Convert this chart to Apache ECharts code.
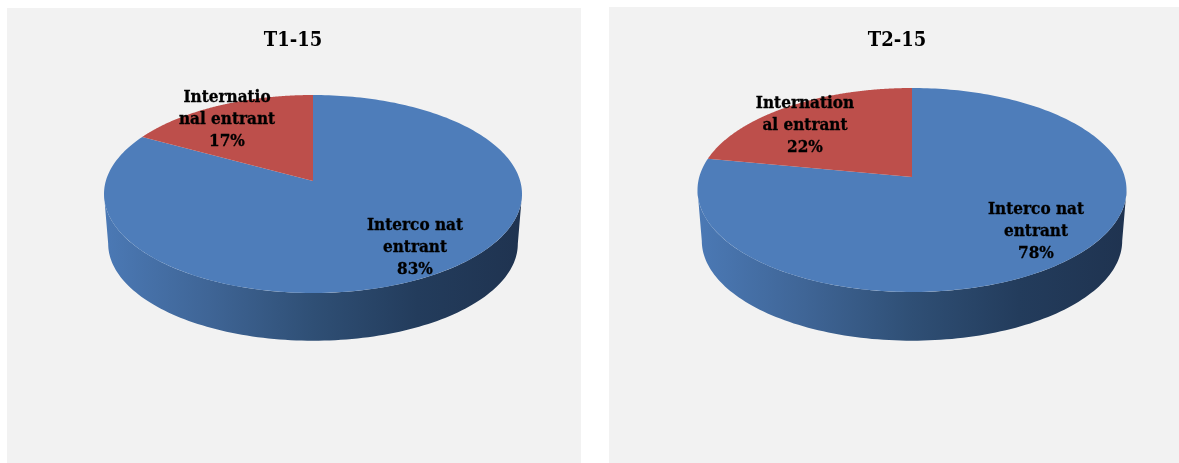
<!DOCTYPE html>
<html><head><meta charset="utf-8">
<style>html,body{margin:0;padding:0;background:#fff}#c{width:1179px;height:463px}</style>
<script src="https://cdn.jsdelivr.net/npm/echarts@6/dist/echarts.min.js"></script>
</head><body><div id="c"></div>
<script>
const periods = ['T1-15', 'T2-15'];
const categories = ['Interco nat entrant', 'International entrant'];
const t1Values = [83, 17];
const t2Values = [78, 22];
const t1LabelText = ['Interco nat\nentrant', 'Internatio\nnal entrant'];
const t2LabelText = ['Interco nat\nentrant', 'Internation\nal entrant'];

const FONT = '"DejaVu Serif Condensed", "DejaVu Serif", serif';
const topColors = ['#4e7dba', '#bd4f4b'];
const wallStops = [[0,'#4b79b5'],[0.25,'#3f6596'],[0.5,'#2f4f75'],[0.75,'#233c5c'],[1,'#1f3350']];

// Layout of each pie: apex position and upper / lower ellipse reach.
const layouts = [
  { ax:313, ay:181, up:86, down:112, rx:209, depth:50, shrink:0.98, panel:[7,8,574,455], titleX:293,
    labelPos:[[415,247.5],[227,119.5]] },
  { ax:912, ay:177, up:89, down:115, rx:214.5, depth:51, shrink:0.98, panel:[609,7,570,456], titleX:897,
    labelPos:[[1036,231.5],[805,125.5]] }
];

function projector(l){
  const c = (l.up - l.down) / (l.up + l.down);
  const a = l.down * (1 + c);
  const d = l.rx * Math.sqrt(1 - c*c);
  return {
    c,
    top(t){ const u=Math.sin(t), v=-Math.cos(t), w=1+c*v; return [l.ax+d*u/w, l.ay+a*v/w]; },
    bottom(t){ const u=Math.sin(t), v=-Math.cos(t), w=1+c*v;
      return [l.ax+l.shrink*d*u/w, l.ay+l.depth+l.shrink*a*v/w]; }
  };
}

function sliceRender(l, values, labels){
  const total = values.reduce((s,v)=>s+v,0);
  const P = projector(l);
  return function(params, api){
    const i = params.dataIndex;
    const before = values.slice(0,i).reduce((s,v)=>s+v,0);
    const start = before/total*2*Math.PI;
    const end = (before+api.value(0))/total*2*Math.PI;
    const children = [];
    // Side wall: only the part of the slice that faces the viewer
    const ext = Math.PI/2 + Math.asin(Math.min(1,Math.abs(P.c)));
    const fa = Math.max(start, ext), fb = Math.min(end, 2*Math.PI-ext);
    if (fb > fa) {
      const pts = [], back = [];
      const n = 120;
      for (let k=0;k<=n;k++){ const t=fa+(fb-fa)*k/n; pts.push(P.top(t)); back.push(P.bottom(t)); }
      children.push({ type:'polygon', z2:1, shape:{points:pts.concat(back.reverse())},
        style:{ fill:new echarts.graphic.LinearGradient(0,0,1,0,wallStops.map(s=>({offset:s[0],color:s[1]}))) } });
    }
    // Top face
    const pts = [[l.ax,l.ay]];
    const n = 240;
    for (let k=0;k<=n;k++){ pts.push(P.top(start+(end-start)*k/n)); }
    children.push({ type:'polygon', z2:2, shape:{points:pts}, style:{ fill:topColors[i] } });
    // Label
    children.push({ type:'text', z2:5, style:{
      x:l.labelPos[i][0], y:l.labelPos[i][1], text:labels[i]+'\n'+api.value(0)+'%',
      fill:'#000', stroke:'#000', lineWidth:0.3, font:'bold 17px '+FONT, lineHeight:22, align:'center', verticalAlign:'middle' } });
    return { type:'group', children };
  };
}

const chart = echarts.init(document.getElementById('c'), null, {renderer:'canvas'});
const seriesData = [[t1Values,t1LabelText],[t2Values,t2LabelText]];
chart.setOption({
  animation:false,
  backgroundColor:'#ffffff',
  title: periods.map((p,i)=>({ text:p, left:layouts[i].titleX, top:31, padding:0, textAlign:'center',
    textStyle:{ fontFamily:FONT, fontWeight:'bold', fontSize:20, color:'#000' } })),
  graphic: layouts.map(l=>({ type:'rect', z:-1, silent:true,
    shape:{x:l.panel[0],y:l.panel[1],width:l.panel[2],height:l.panel[3]}, style:{fill:'#f2f2f2'} })),
  series: seriesData.map((s,i)=>({
    type:'custom', name:periods[i], coordinateSystem:'none', silent:true, clip:false,
    renderItem: sliceRender(layouts[i], s[0], s[1]),
    data: s[0].map((v,j)=>({ name:categories[j], value:[v] }))
  }))
});
</script></body></html>
